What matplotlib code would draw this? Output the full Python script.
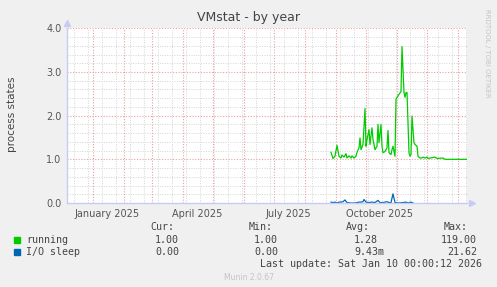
import numpy as np
import matplotlib
matplotlib.use('Agg')
import matplotlib.pyplot as plt

# time axis: 400 days ending at last update
start = np.datetime64('2024-12-06')
end = np.datetime64('2026-01-10')

# running (days since start, value)
run_days = [264, 266, 268, 270, 272, 274, 275, 277, 279, 280, 282, 284, 285, 287, 289,
            290, 292, 293, 294, 296, 298, 299, 300, 302, 303, 305, 306, 307, 308, 310,
            311, 312, 314, 315, 316, 318, 320, 321, 322, 324, 325, 326, 328, 329, 331,
            332, 334, 335, 337, 338, 339, 340, 342, 343, 344, 345, 347, 348, 350, 351,
            353, 355, 356, 358, 360, 361, 368, 370, 376, 378, 400]
run_vals = [1.16, 1.02, 1.07, 1.32, 1.07, 1.03, 1.10, 1.05, 1.13, 1.03, 1.08, 1.03, 1.08, 1.03, 1.07,
            1.16, 1.26, 1.49, 1.22, 1.34, 2.16, 1.30, 1.45, 1.68, 1.34, 1.72, 1.45, 1.34, 1.22, 1.30,
            1.80, 1.38, 1.80, 1.30, 1.15, 1.18, 1.26, 1.66, 1.15, 1.11, 1.22, 1.30, 1.07, 2.38, 2.45,
            2.49, 2.55, 3.58, 2.53, 2.42, 2.53, 2.53, 1.15, 1.07, 1.11, 1.99, 1.38, 1.34, 1.30, 1.07,
            1.03, 1.03, 1.05, 1.03, 1.05, 1.02, 1.05, 1.02, 1.03, 1.00, 1.00]

# I/O sleep
io_days = [264, 266, 268, 270, 272, 274, 276, 278, 280, 284, 288, 292, 294, 296, 297, 299,
           302, 305, 308, 311, 313, 316, 320, 322, 324, 326, 328, 332, 336, 339, 341, 344, 346]
io_vals = [0.02, 0.01, 0.02, 0.00, 0.02, 0.02, 0.03, 0.07, 0.01, 0.00, 0.00, 0.02, 0.02, 0.03, 0.08, 0.02,
           0.01, 0.02, 0.01, 0.06, 0.01, 0.01, 0.03, 0.01, 0.01, 0.21, 0.01, 0.00, 0.01, 0.02, 0.00, 0.02, 0.00]

W, H = 497, 287
def fx(x): return x / W
def fy(y): return 1 - y / H

fig = plt.figure(figsize=(W / 100, H / 100), dpi=100, facecolor='#F0F0F0')
ax = fig.add_axes([fx(67), fy(203), 400 / W, (203 - 28.3) / H])
ax.set_facecolor('white')

ndays = int((end - start).astype(int))
ax.set_xlim(0, ndays)
ax.set_ylim(0, 4.0)

# grid
months = np.arange('2024-12', '2026-02', dtype='datetime64[M]')
month_x = [(m.astype('datetime64[D]') - start).astype(int) for m in months]
for y in np.arange(0.2, 4.0, 0.2):
    if abs(y - round(y)) > 1e-6:
        ax.axhline(y, color='#D4D4D4', lw=0.7, ls=(0, (1, 1.5)), zorder=0)
for x in np.arange(6.5, ndays, 14):
    ax.axvline(x, color='#D4D4D4', lw=0.7, ls=(0, (1, 1.5)), zorder=0)
for y in [1, 2, 3, 4]:
    ax.axhline(y, color='#EBA0A0', lw=0.8, ls=(0, (1, 1.5)), zorder=1)
for x in month_x:
    if 0 < x < ndays:
        ax.axvline(x, color='#EBA0A0', lw=0.8, ls=(0, (1, 1.5)), zorder=1)

ax.plot(run_days, run_vals, color='#00CC00', lw=0.9, zorder=3)
ax.plot(io_days, io_vals, color='#0066B3', lw=0.9, zorder=3)

# ticks
yt = [0, 1, 2, 3, 4]
ax.set_yticks(yt)
ax.set_yticklabels(['%.1f' % v for v in yt])
quarters = [np.datetime64('2025-01-15'), np.datetime64('2025-04-15'),
            np.datetime64('2025-07-15'), np.datetime64('2025-10-15')]
qlabels = ['January 2025', 'April 2025', 'July 2025', 'October 2025']
ax.set_xticks([(q - start).astype(int) for q in quarters])
ax.set_xticklabels(qlabels)
ax.tick_params(length=0, labelsize=7, colors='#555555', pad=4)
for s in ax.spines.values():
    s.set_visible(False)

# axes with arrows
axis_c = '#C8CCF4'
ax.plot([0, 0], [0, 4.0], color=axis_c, lw=1, clip_on=False, zorder=4)
ax.plot([0, ndays], [0, 0], color=axis_c, lw=1, clip_on=False, zorder=4)
ax.plot([0], [4.12], marker='^', color=axis_c, ms=5, clip_on=False)
ax.plot([ndays + 5], [0], marker='>', color=axis_c, ms=5, clip_on=False)

fig.text(0.5, fy(18), 'VMstat - by year', ha='center', va='center', fontsize=9, color='#444444')
fig.text(fx(12), fy(114), 'process states', rotation=90, ha='center', va='center', fontsize=7.5, color='#444444')
fig.text(fx(487), fy(53), 'RRDTOOL / TOBI OETIKER', rotation=270, ha='center', va='center',
         fontsize=5, color='#C4C4C4')

mono = dict(family='DejaVu Sans Mono', fontsize=7.2, color='#444444', va='center')
fig.text(fx(174), fy(227), 'Cur:', ha='right', **mono)
fig.text(fx(273), fy(227), 'Min:', ha='right', **mono)
fig.text(fx(370), fy(227), 'Avg:', ha='right', **mono)
fig.text(fx(468), fy(227), 'Max:', ha='right', **mono)

rows = [('running', '#00CC00', ['1.00', '1.00', '1.28', '119.00']),
        ('I/O sleep', '#0066B3', ['0.00', '0.00', '9.43m', '21.62'])]
for i, (name, c, vals) in enumerate(rows):
    y = 240 + 12 * i
    fig.patches.append(plt.Rectangle((fx(14), fy(y + 3)), 6 / W, 6 / H, color=c,
                                     transform=fig.transFigure, figure=fig))
    fig.text(fx(26), fy(y), name, ha='left', **mono)
    fig.text(fx(179), fy(y), vals[0], ha='right', **mono)
    fig.text(fx(278), fy(y), vals[1], ha='right', **mono)
    fig.text(fx(354), fy(y), vals[2], ha='left', **mono)
    fig.text(fx(477), fy(y), vals[3], ha='right', **mono)

fig.text(fx(482), fy(264), 'Last update: Sat Jan 10 00:00:12 2026', ha='right', **mono)
fig.text(0.5, fy(277), 'Munin 2.0.67', ha='center', va='center', fontsize=5.5, color='#C4C4C4')

fig.savefig('out.png', dpi=100, facecolor=fig.get_facecolor())
